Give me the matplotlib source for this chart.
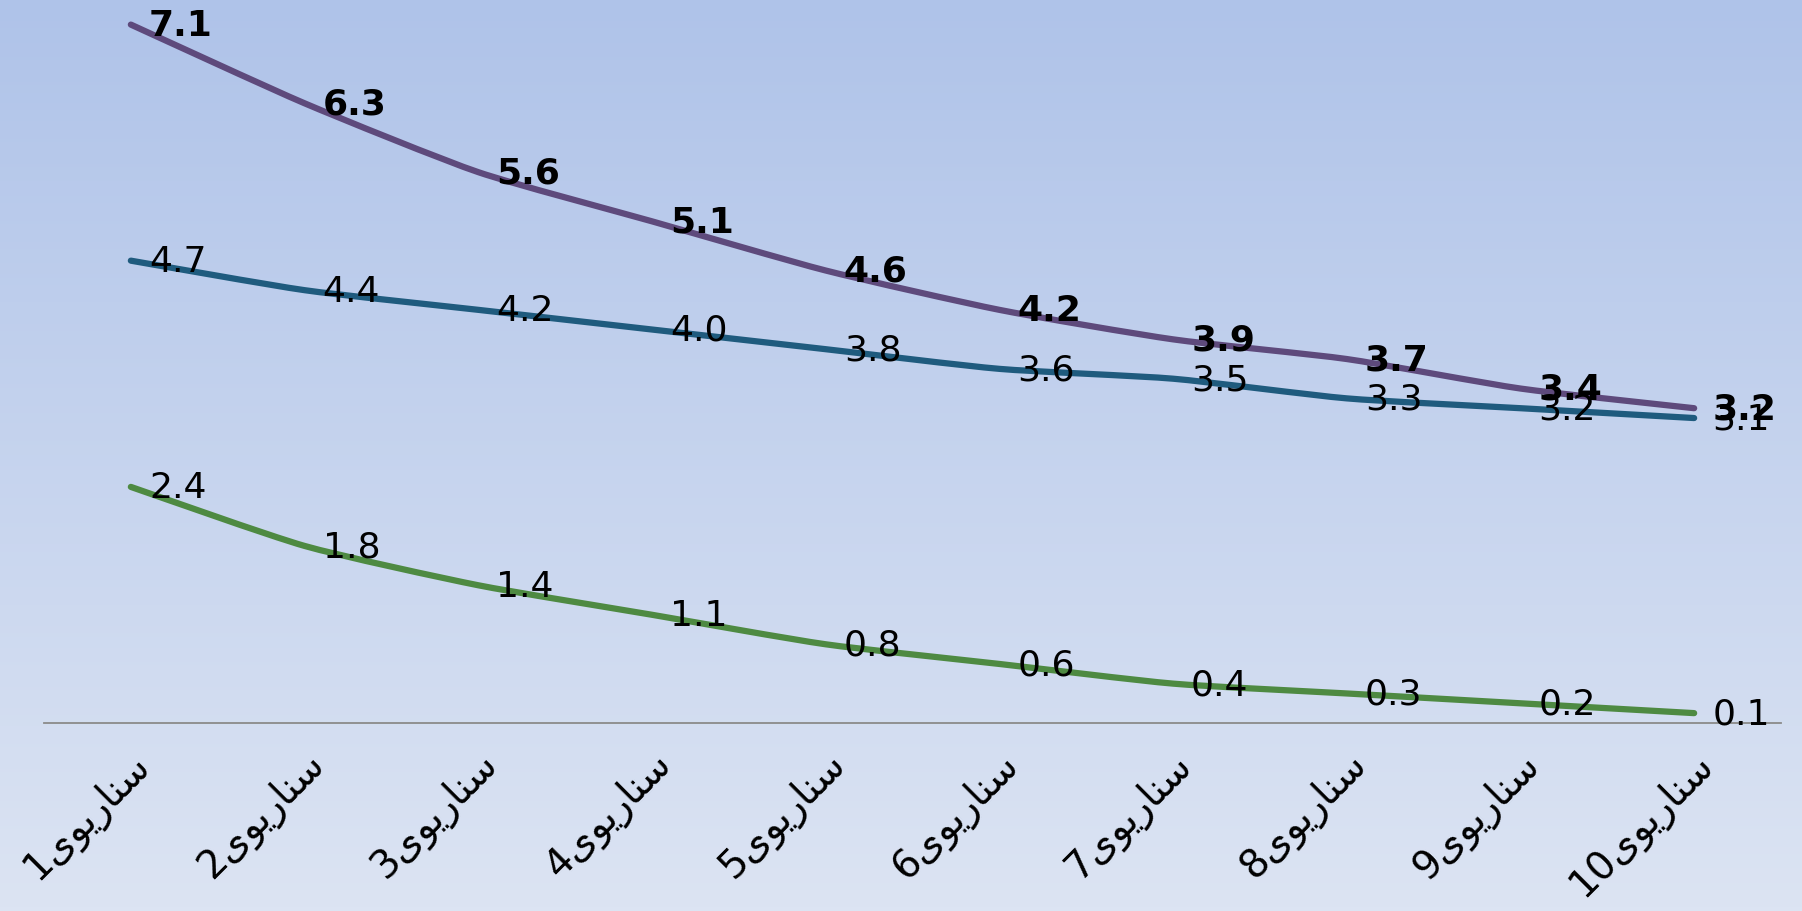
import numpy as np
import matplotlib
matplotlib.use("Agg")
import matplotlib.pyplot as plt
from matplotlib.colors import LinearSegmentedColormap
from matplotlib.path import Path
from matplotlib.patches import PathPatch

# data
scenario_word = "سناریوی"
scenarios = [f"{scenario_word}{i}" for i in range(1, 11)]
purple_vals = [7.1, 6.3, 5.6, 5.1, 4.6, 4.2, 3.9, 3.7, 3.4, 3.2]
blue_vals = [4.7, 4.4, 4.2, 4.0, 3.8, 3.6, 3.5, 3.3, 3.2, 3.1]
green_vals = [2.4, 1.8, 1.4, 1.1, 0.8, 0.6, 0.4, 0.3, 0.2, 0.1]

# matplotlib has no arabic shaping: map to presentation forms, visual order
_shaped = {
    "سناریوی": "\uFBFC\uFEEE\uFBFE\uFEAD\uFE8E\uFEE8\uFEB3",
}


def visual(label):
    word = label.rstrip("0123456789")
    num = label[len(word):]
    return num + _shaped.get(word, word[::-1])


def smooth_path(xs, ys, k=0.1):
    """Excel-like smoothed line: cubic bezier through every data point."""
    pts = np.column_stack([xs, ys]).astype(float)
    verts, codes = [pts[0]], [Path.MOVETO]
    n = len(pts)
    for i in range(n - 1):
        p0 = pts[max(i - 1, 0)]
        p1, p2 = pts[i], pts[i + 1]
        p3 = pts[min(i + 2, n - 1)]
        verts += [p1 + (p2 - p0) * k, p2 - (p3 - p1) * k, p2]
        codes += [Path.CURVE4] * 3
    return Path(verts, codes)


FONT = ["DejaVu Sans"]

fig = plt.figure(figsize=(18.02, 9.11), dpi=100)

# background gradient
bg = fig.add_axes([0, 0, 1, 1], zorder=-10)
cmap = LinearSegmentedColormap.from_list("bg", ["#AFC3E9", "#DCE4F3"])
bg.imshow(np.linspace(0, 1, 256)[:, None], aspect="auto", cmap=cmap,
          extent=[0, 1, 0, 1])
bg.axis("off")

ax = fig.add_axes([44 / 1802, 0.2064, (1781 - 44) / 1802, 0.7936])
ax.patch.set_alpha(0)
x = np.arange(len(scenarios))

series = [
    (green_vals, "#4E8A42", "normal"),
    (blue_vals, "#1F5B7E", "normal"),
    (purple_vals, "#5E4A7C", "bold"),
]
for vals, col, weight in series:
    ax.add_patch(PathPatch(smooth_path(x, vals), facecolor="none", edgecolor=col,
                           lw=4.5, capstyle="round", zorder=3))
    for xi, v in zip(x, vals):
        ax.annotate(f"{v:.1f}", (xi, v), xytext=(13, -1), textcoords="offset points",
                    ha="left", va="center", fontsize=26, fontweight=weight,
                    family=FONT, color="black", zorder=4)

ax.set_xlim(-0.5, len(scenarios) - 0.5)
ax.set_ylim(0, 7.35)
ax.set_yticks([])
ax.set_xticks(x)
ax.set_xticklabels([visual(s) for s in scenarios], rotation=45, ha="right",
                   rotation_mode="anchor", fontsize=28, family=FONT)
ax.tick_params(axis="x", length=0, pad=16)
for s in ("top", "right", "left"):
    ax.spines[s].set_visible(False)
ax.spines["bottom"].set_color("#8A8A8A")
ax.spines["bottom"].set_linewidth(1.3)

fig.savefig("out.png", dpi=100)
